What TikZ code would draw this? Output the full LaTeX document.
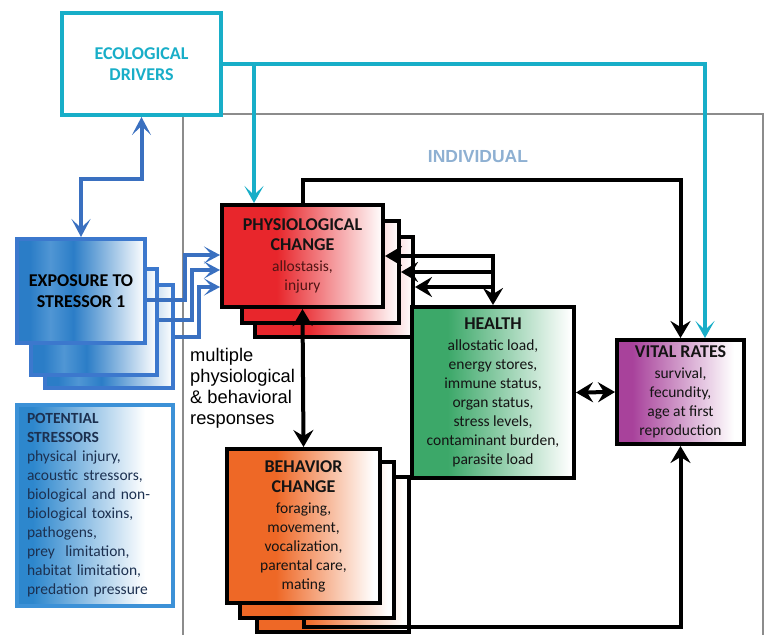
\documentclass[tikz,border=0pt]{standalone}
\usepackage{fontspec}
\setmainfont{Carlito}
\newfontfamily\arialf{Liberation Sans}
\usetikzlibrary{arrows.meta}

\definecolor{ecocyan}{RGB}{24,174,200}
\definecolor{arrowblue}{RGB}{58,112,192}
\definecolor{expblue}{RGB}{43,125,199}
\definecolor{expblueL}{RGB}{80,150,212}
\definecolor{expborder}{RGB}{60,120,205}
\definecolor{stressblue}{RGB}{45,135,205}
\definecolor{stressborder}{RGB}{60,145,215}
\definecolor{navy}{RGB}{28,48,80}
\definecolor{physred}{RGB}{232,38,44}
\definecolor{physbody}{RGB}{80,20,20}
\definecolor{healthgreen}{RGB}{60,168,105}
\definecolor{vitalpurple}{RGB}{168,66,155}
\definecolor{behorange}{RGB}{238,104,38}
\definecolor{indiv}{RGB}{142,176,210}
\definecolor{framegray}{RGB}{140,140,140}
\definecolor{bodytext}{RGB}{20,20,20}

\pgfdeclarehorizontalshading{physshade}{100bp}{color(0bp)=(physred); color(42bp)=(physred); color(75bp)=(white); color(100bp)=(white)}
\pgfdeclarehorizontalshading{healthshade}{100bp}{color(0bp)=(healthgreen); color(36bp)=(healthgreen); color(74bp)=(white); color(100bp)=(white)}
\pgfdeclarehorizontalshading{vitalshade}{100bp}{color(0bp)=(vitalpurple); color(31bp)=(vitalpurple); color(71bp)=(white); color(100bp)=(white)}
\pgfdeclarehorizontalshading{behshade}{100bp}{color(0bp)=(behorange); color(41bp)=(behorange); color(73bp)=(white); color(100bp)=(white)}
\pgfdeclarehorizontalshading{expshade}{100bp}{color(0bp)=(expblue); color(30bp)=(expblue); color(38bp)=(expblueL); color(47bp)=(expblue); color(75bp)=(white); color(100bp)=(white)}
\pgfdeclarehorizontalshading{stressshade}{100bp}{color(0bp)=(stressblue); color(30bp)=(stressblue); color(66bp)=(white); color(100bp)=(white)}

\pgfdeclarelayer{back}
\pgfdeclarelayer{mid}
\pgfsetlayers{back,mid,main}

\newcommand\bodyfnt{\fontsize{15.5}{19}\selectfont}
\newcommand\headfnt{\fontsize{18}{21}\selectfont\bfseries}

\tikzset{
  blkbox/.style={draw=black, line width=4pt, inner sep=0pt, align=center, font=\bodyfnt, text=bodytext},
  physbox/.style={blkbox, shading=physshade},
  healthbox/.style={blkbox, shading=healthshade},
  vitalbox/.style={blkbox, shading=vitalshade},
  behbox/.style={blkbox, shading=behshade},
  expbox/.style={draw=expborder, line width=4pt, shading=expshade, inner sep=0pt, align=center, font=\headfnt, text=black},
  blkarr/.style={draw=black, line width=4pt, -{Stealth[length=17pt,width=20pt,inset=6pt]}},
  blkdbl/.style={draw=black, line width=4pt, {Stealth[length=17pt,width=20pt,inset=6pt]}-{Stealth[length=17pt,width=20pt,inset=6pt]}},
  cyanarr/.style={draw=ecocyan, line width=3.5pt, -{Stealth[length=17pt,width=19pt,inset=9pt]}},
  bluearr/.style={draw=arrowblue, line width=4pt, -{Stealth[length=16pt,width=17pt,inset=8pt]}},
  bluedbl/.style={draw=arrowblue, line width=4pt, {Stealth[length=18pt,width=19pt,inset=9pt]}-{Stealth[length=18pt,width=19pt,inset=9pt]}},
}

\begin{document}
\begin{tikzpicture}[x=1pt,y=-1pt]
\useasboundingbox (0,0) rectangle (767,634);
\clip (0,0) rectangle (767,634);

% individual frame
\draw[framegray, line width=1.8pt] (183,660) -- (183,114) -- (763,114) -- (763,660);
\node[font=\arialf\bfseries\fontsize{17.5}{21}\selectfont, text=indiv] (indiv) at (478,157) {INDIVIDUAL};

% ecological drivers
\node[draw=ecocyan, line width=4pt, fill=white, minimum width=159pt, minimum height=102pt,
      inner sep=0pt, align=center, text=ecocyan, font=\headfnt] (eco) at (141.5,64) {ECOLOGICAL\\DRIVERS};

% exposure stack
\node[expbox, minimum width=128pt, minimum height=103pt] (exp3) at (109,336.5) {};
\node[expbox, minimum width=126pt, minimum height=106pt] (exp2) at (94,322) {};
\node[expbox, minimum width=128pt, minimum height=104pt] (exp1) at (81,291) {EXPOSURE TO\\STRESSOR 1};

% potential stressors
\node[draw=stressborder, line width=3.5pt, shading=stressshade, minimum width=156pt, minimum height=201pt,
      text width=136pt, inner xsep=10pt, inner ysep=0pt, align=left, text=navy, font=\bodyfnt] (stress) at (95,505.5)
  {\textbf{POTENTIAL}\\\textbf{STRESSORS}\\physical injury,\\acoustic stressors,\\biological and non-\\biological toxins,\\pathogens,\\prey~ limitation,\\habitat limitation,\\predation pressure};

% physiological stack
\node[physbox, minimum width=158pt, minimum height=100pt] (phys3) at (334,287) {};
\node[physbox, minimum width=157pt, minimum height=102pt] (phys2) at (320.5,272) {};
\node[physbox, minimum width=161pt, minimum height=102pt] (phys1) at (302.5,256)
  {{\headfnt PHYSIOLOGICAL}\\[1pt]{\headfnt CHANGE}\\[2pt]{\color{physbody}allostasis,}\\{\color{physbody}injury}};

% health and vital rates
\node[healthbox, minimum width=162pt, minimum height=171pt] (health) at (493,392.5)
  {{\headfnt HEALTH}\\[2pt]allostatic load,\\energy stores,\\immune status,\\organ status,\\stress levels,\\contaminant burden,\\parasite load};
\node[vitalbox, minimum width=127pt, minimum height=104pt] (vital) at (680.5,392)
  {{\headfnt VITAL RATES}\\[2pt]survival,\\fecundity,\\age at first\\reproduction};

% cyan connectors
\coordinate (ecobranch) at (254,64);
\draw[cyanarr] (eco.east) -| (vital.north -| 705,0);
\draw[cyanarr] (ecobranch) -- (phys1.north -| ecobranch);

% multiple responses label
\node[anchor=north west, inner sep=0pt, align=left, font=\arialf\fontsize{18.3}{21}\selectfont] (multi) at (190,348)
  {multiple\\physiological\\\& behavioral\\responses};

% behavior stack
\begin{pgfonlayer}{back}
\node[behbox, minimum width=152pt, minimum height=155pt] (beh3) at (333,554.5) {};
\end{pgfonlayer}
\node[behbox, minimum width=154pt, minimum height=156pt] (beh2) at (317,540) {};
\node[behbox, minimum width=153pt, minimum height=154pt] (beh1) at (303.5,526)
  {{\headfnt BEHAVIOR}\\[1pt]{\headfnt CHANGE}\\[2pt]foraging,\\movement,\\vocalization,\\parental care,\\mating};
\begin{pgfonlayer}{mid}
\draw[blkarr] (beh1.south) -- (beh1.south |- 0,627) -| (vital.south);
\end{pgfonlayer}

% blue connectors
\draw[bluedbl] (eco.south) -- ++(0,62) -| (exp1.north);
\draw[bluearr] (exp1.east |- 0,300) -- (185,300) -- (185,255) -- (phys1.west |- 0,255);
\draw[bluearr] (exp2.east |- 0,320) -- (192,320) -- (192,270) -- (phys1.west |- 0,270);
\draw[bluearr] (exp3.east |- 0,337) -- (199,337) -- (199,287) -- (phys1.west |- 0,287);

% black connectors
\draw[blkarr] (phys1.north) -- ++(0,-23) -| (vital.north);
\draw[blkdbl] (phys1.east) -- (health.north |- phys1.east) -- (health.north);
\draw[blkarr] (health.north |- phys2.east) -- (phys2.east);
\draw[blkarr] (health.north |- phys3.east) -- (phys3.east);
\draw[blkdbl] (phys1.south) -- (beh1.north);
\draw[blkdbl] (health.east) -- (vital.west);
\end{tikzpicture}
\end{document}
